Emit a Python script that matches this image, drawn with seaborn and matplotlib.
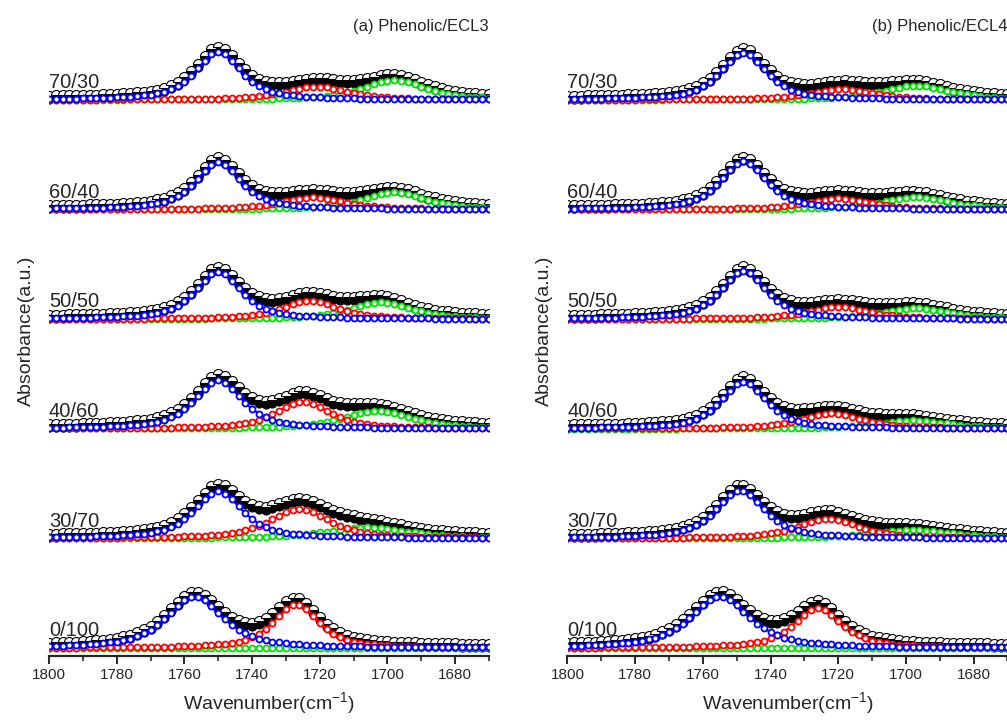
import numpy as np
import matplotlib
matplotlib.use('Agg')
import matplotlib.pyplot as plt
from matplotlib import transforms
from matplotlib.ticker import MultipleLocator
import seaborn as sns

# wavenumber grid (cm^-1), measured every 2 cm^-1
wavenumber = np.arange(1800, 1669, -2)
ratios = ['70/30', '60/40', '50/50', '40/60', '30/70', '0/100']

# (a) Phenolic/ECL3 - fitted bands: center, height (a.u.), fwhm
blue_center_a = [1750, 1750, 1750, 1750, 1750, 1757]
blue_height_a = [0.44, 0.43, 0.43, 0.44, 0.43, 0.47]
blue_fwhm_a = [16, 16, 16, 17, 17, 20]
red_center_a = [1721, 1722, 1723, 1725, 1726, 1727]
red_height_a = [0.12, 0.11, 0.165, 0.25, 0.27, 0.40]
red_fwhm_a = [22, 22, 20, 19, 21, 16]
green_center_a = [1698, 1698, 1702, 1703, 1706, 1700]
green_height_a = [0.18, 0.155, 0.155, 0.16, 0.10, 0.0]
green_fwhm_a = [22, 22, 22, 25, 30, 20]

# (b) Phenolic/ECL4
blue_center_b = [1748, 1748, 1748, 1748, 1749, 1755]
blue_height_b = [0.43, 0.44, 0.44, 0.43, 0.44, 0.47]
blue_fwhm_b = [16, 16, 16, 16, 17, 21]
red_center_b = [1719, 1720, 1720, 1722, 1723, 1726]
red_height_b = [0.10, 0.10, 0.11, 0.14, 0.18, 0.365]
red_fwhm_b = [22, 22, 22, 22, 21, 17]
green_center_b = [1697, 1697, 1697, 1698, 1698, 1700]
green_height_b = [0.13, 0.115, 0.10, 0.075, 0.075, 0.0]
green_fwhm_b = [24, 24, 24, 26, 30, 20]

panels = [
    ('(a) Phenolic/ECL3',
     (blue_center_a, blue_height_a, blue_fwhm_a),
     (red_center_a, red_height_a, red_fwhm_a),
     (green_center_a, green_height_a, green_fwhm_a)),
    ('(b) Phenolic/ECL4',
     (blue_center_b, blue_height_b, blue_fwhm_b),
     (red_center_b, red_height_b, red_fwhm_b),
     (green_center_b, green_height_b, green_fwhm_b)),
]


def band(x, c, h, w, eta=0.75):
    # pseudo-Voigt band used in the deconvolution
    g = np.exp(-4 * np.log(2) * ((x - c) / w) ** 2)
    l = 1 / (1 + 4 * ((x - c) / w) ** 2)
    return h * (eta * l + (1 - eta) * g)


sns.set_style('white')
plt.rcParams['font.family'] = ['Liberation Sans', 'DejaVu Sans']
plt.rcParams['mathtext.fontset'] = 'custom'
plt.rcParams['mathtext.rm'] = 'Liberation Sans'
plt.rcParams['mathtext.it'] = 'Liberation Sans'

fig = plt.figure(figsize=(10.07, 7.21), dpi=100)
lefts = [49 / 1007, 567.5 / 1007]
n = len(ratios)

for (title, blue, red, green), left in zip(panels, lefts):
    ax = fig.add_axes([left, 65 / 721, 440 / 1007, 656 / 721])
    up = transforms.offset_copy(ax.transData, fig=fig, x=0, y=3, units='dots')
    for i, ratio in enumerate(ratios):
        base = n - 1 - i
        yb = band(wavenumber, blue[0][i], blue[1][i], blue[2][i])
        yr = band(wavenumber, red[0][i], red[1][i], red[2][i])
        yg = band(wavenumber, green[0][i], green[1][i], green[2][i])
        total = yb + yr + yg
        sns.lineplot(x=wavenumber, y=base + total, ax=ax, color='black', lw=3,
                     marker='o', ms=6.5, mfc='black', mec='black', mew=0.8, sort=False)
        sns.lineplot(x=wavenumber, y=base + total, ax=ax, color='black', lw=0,
                     marker='o', ms=7.2, fillstyle='bottom', mfc='black',
                     mfcalt='white', mec='black', mew=0.8,
                     sort=False, transform=up)
        for comp, col in [(yg, '#00e000'), (yr, '#ff0000'), (yb, '#0000ff')]:
            sns.lineplot(x=wavenumber, y=base + comp, ax=ax, color=col, lw=1.5,
                         marker='o', ms=4.3, mfc='white', mec=col, mew=1.3, sort=False)
        ax.text(1800, base + 0.107, ratio, fontsize=14.5, ha='left', va='baseline')

    ax.set_xlim(1800, 1670)
    ax.set_ylim(-0.073, 5.91)
    ax.xaxis.set_major_locator(MultipleLocator(20))
    ax.xaxis.set_minor_locator(MultipleLocator(10))
    ax.set_yticks([])
    for s in ['left', 'top', 'right']:
        ax.spines[s].set_visible(False)
    ax.spines['bottom'].set_linewidth(1.6)
    ax.tick_params(axis='x', which='major', direction='out', length=5.5, width=1.4,
                   labelsize=11, pad=3, bottom=True)
    ax.tick_params(axis='x', which='minor', direction='out', length=3.5, width=1.2,
                   bottom=True)
    ax.set_xlabel('Wavenumber(cm$^{-1}$)', fontsize=14, labelpad=6)
    ax.set_ylabel('Absorbance(a.u.)', fontsize=14)
    ax.yaxis.set_label_coords(-0.032, 0.495)
    ax.text(1.0, 0.953, title, transform=ax.transAxes, fontsize=12,
            ha='right', va='baseline')

fig.savefig('out.png', dpi=100)
